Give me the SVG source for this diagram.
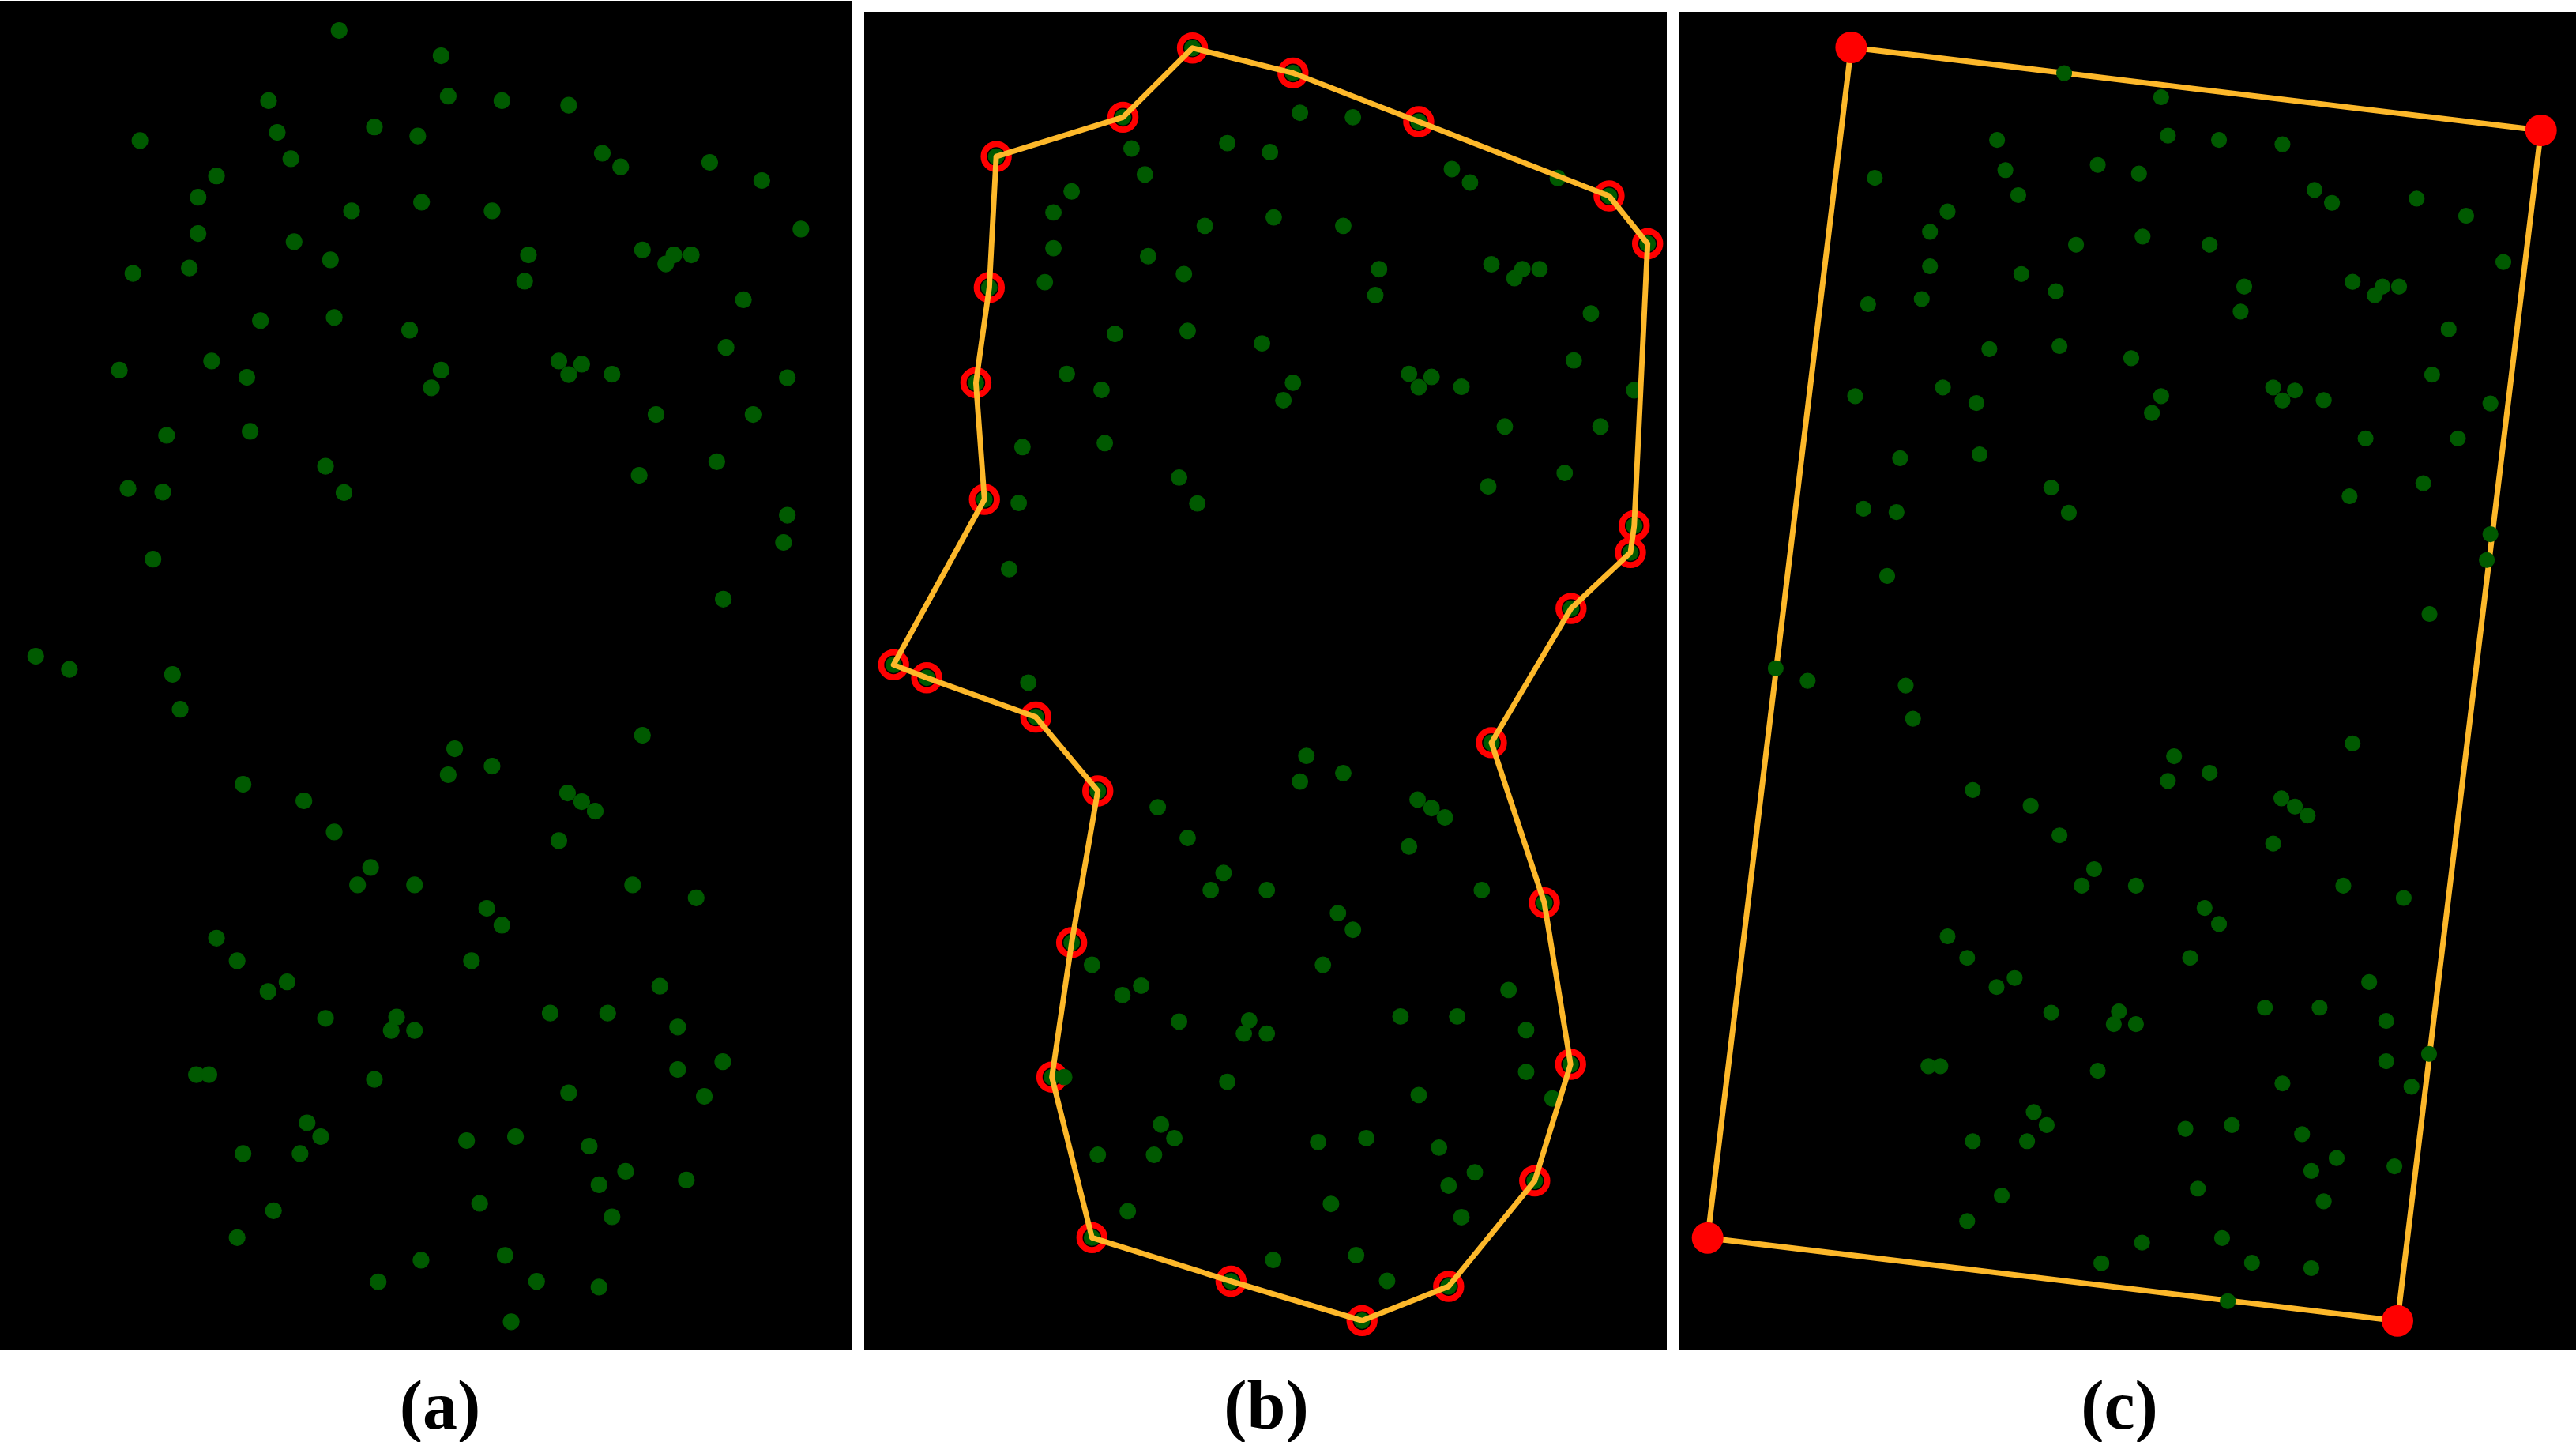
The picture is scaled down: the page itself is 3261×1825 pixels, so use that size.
<svg xmlns="http://www.w3.org/2000/svg" xmlns:xlink="http://www.w3.org/1999/xlink" width="3261" height="1825" viewBox="0 0 3261 1825">
<style>
.bg{fill:#000}
.pt circle{fill:#005a00;stroke:#005a00;stroke-width:1.2}
.hull{fill:none;stroke:#fdb82a;stroke-width:7;stroke-linejoin:round}
.ring{fill:none;stroke:#ff0000;stroke-width:8}
.corner{fill:#ff0000}
.lbl{font-family:"Liberation Serif","Times New Roman",serif;font-weight:bold;font-size:88px;fill:#000;text-anchor:middle}
</style>
<defs>
<g id="pts" class="pt">
<circle cx="429.3" cy="38.5" r="10"/><circle cx="558.4" cy="70.6" r="10"/><circle cx="340" cy="127.4" r="10"/><circle cx="567.4" cy="121.7" r="10"/><circle cx="635.4" cy="127.4" r="10"/><circle cx="719.9" cy="133.2" r="10"/><circle cx="177.2" cy="177.9" r="10"/><circle cx="351" cy="167.6" r="10"/><circle cx="474" cy="160.7" r="10"/><circle cx="528.9" cy="172.2" r="10"/><circle cx="368.2" cy="200.9" r="10"/><circle cx="762.5" cy="194" r="10"/><circle cx="785.8" cy="211.2" r="10"/><circle cx="898.5" cy="205.5" r="10"/><circle cx="964.4" cy="228.5" r="10"/><circle cx="274.1" cy="222.7" r="10"/><circle cx="250.7" cy="249.7" r="10"/><circle cx="445.1" cy="266.9" r="10"/><circle cx="533.7" cy="256" r="10"/><circle cx="623" cy="266.9" r="10"/><circle cx="1013.9" cy="289.9" r="10"/><circle cx="250.7" cy="295.6" r="10"/><circle cx="372.3" cy="305.9" r="10"/><circle cx="418.3" cy="328.9" r="10"/><circle cx="669" cy="322.6" r="10"/><circle cx="813.3" cy="316.3" r="10"/><circle cx="842.8" cy="334.1" r="10"/><circle cx="853.1" cy="322.6" r="10"/><circle cx="875.1" cy="322.6" r="10"/><circle cx="168.3" cy="346.1" r="10"/><circle cx="239.7" cy="339.2" r="10"/><circle cx="664.2" cy="355.9" r="10"/><circle cx="941.1" cy="379.4" r="10"/><circle cx="329.7" cy="405.8" r="10"/><circle cx="423.1" cy="401.8" r="10"/><circle cx="518.6" cy="417.9" r="10"/><circle cx="919.1" cy="439.7" r="10"/><circle cx="151.1" cy="468.4" r="10"/><circle cx="267.9" cy="456.9" r="10"/><circle cx="312.5" cy="477.6" r="10"/><circle cx="558.4" cy="468.4" r="10"/><circle cx="546.1" cy="490.8" r="10"/><circle cx="707.5" cy="456.9" r="10"/><circle cx="736.4" cy="460.9" r="10"/><circle cx="719.9" cy="474.1" r="10"/><circle cx="774.8" cy="473.6" r="10"/><circle cx="996.7" cy="478.1" r="10"/><circle cx="830.5" cy="524.6" r="10"/><circle cx="953.4" cy="524.6" r="10"/><circle cx="210.9" cy="551" r="10"/><circle cx="316.7" cy="545.9" r="10"/><circle cx="412.1" cy="590.1" r="10"/><circle cx="907.4" cy="584.3" r="10"/><circle cx="809.2" cy="601.6" r="10"/><circle cx="162.1" cy="618.2" r="10"/><circle cx="206.1" cy="622.8" r="10"/><circle cx="435.5" cy="623.4" r="10"/><circle cx="996.7" cy="652.1" r="10"/><circle cx="991.9" cy="686.5" r="10"/><circle cx="193.7" cy="707.7" r="10"/><circle cx="915.6" cy="758.3" r="10"/><circle cx="45.3" cy="830.6" r="10"/><circle cx="87.9" cy="847.2" r="10"/><circle cx="218.4" cy="853.5" r="10"/>
<circle cx="228.1" cy="897.7" r="10"/><circle cx="813.3" cy="930.6" r="10"/><circle cx="575.6" cy="947.6" r="10"/><circle cx="623" cy="969.6" r="10"/><circle cx="567.4" cy="980.5" r="10"/><circle cx="307.7" cy="992.6" r="10"/><circle cx="384.7" cy="1013.5" r="10"/><circle cx="718.5" cy="1003.6" r="10"/><circle cx="736.4" cy="1014.6" r="10"/><circle cx="753.5" cy="1026.6" r="10"/><circle cx="423.1" cy="1052.9" r="10"/><circle cx="707.5" cy="1063.9" r="10"/><circle cx="469.2" cy="1097.9" r="10"/><circle cx="452.7" cy="1119.9" r="10"/><circle cx="524.8" cy="1119.9" r="10"/><circle cx="800.9" cy="1119.9" r="10"/><circle cx="881.3" cy="1136.3" r="10"/><circle cx="616.2" cy="1149.5" r="10"/><circle cx="635.4" cy="1170.9" r="10"/><circle cx="274.1" cy="1187.3" r="10"/><circle cx="300.2" cy="1215.9" r="10"/><circle cx="596.9" cy="1215.9" r="10"/><circle cx="363.4" cy="1242.7" r="10"/><circle cx="339.3" cy="1254.8" r="10"/><circle cx="835.3" cy="1248.2" r="10"/><circle cx="412.1" cy="1288.8" r="10"/><circle cx="502.1" cy="1287.2" r="10"/><circle cx="495.3" cy="1304.2" r="10"/><circle cx="524.8" cy="1304.2" r="10"/><circle cx="696.5" cy="1282.2" r="10"/><circle cx="769.3" cy="1282.2" r="10"/><circle cx="857.9" cy="1299.8" r="10"/><circle cx="248.7" cy="1360.1" r="10"/><circle cx="264.5" cy="1360.1" r="10"/><circle cx="474" cy="1366.1" r="10"/><circle cx="857.9" cy="1353.5" r="10"/><circle cx="915" cy="1343.7" r="10"/><circle cx="719.9" cy="1383.1" r="10"/><circle cx="891.6" cy="1387.5" r="10"/><circle cx="388.8" cy="1421" r="10"/><circle cx="406" cy="1438.5" r="10"/><circle cx="590.7" cy="1443.5" r="10"/><circle cx="652.6" cy="1438.5" r="10"/><circle cx="307.7" cy="1459.9" r="10"/><circle cx="379.9" cy="1459.9" r="10"/><circle cx="746" cy="1450.6" r="10"/><circle cx="792" cy="1482.4" r="10"/><circle cx="758.3" cy="1499.4" r="10"/><circle cx="868.9" cy="1493.4" r="10"/><circle cx="607.2" cy="1523" r="10"/><circle cx="346.2" cy="1532.3" r="10"/><circle cx="774.8" cy="1540" r="10"/><circle cx="300.2" cy="1566.3" r="10"/><circle cx="533" cy="1594.9" r="10"/><circle cx="639.5" cy="1588.8" r="10"/><circle cx="478.8" cy="1622.3" r="10"/><circle cx="679.3" cy="1621.7" r="10"/><circle cx="758.3" cy="1628.9" r="10"/><circle cx="647.1" cy="1672.8" r="10"/>
</g>
</defs>
<rect width="3261" height="1825" fill="#fff"/>
<g id="panel-a">
<rect class="bg" x="0" y="1" width="1079" height="1707"/>
<use xlink:href="#pts" href="#pts"/>
</g>
<g id="panel-b">
<rect class="bg" x="1094" y="15" width="1016" height="1693"/>
<g transform="translate(1086.5,22.8) scale(0.9855)">
<g id="b-rings" class="ring">
<circle cx="429.3" cy="38.5" r="16"/><circle cx="558.4" cy="70.6" r="16"/><circle cx="719.9" cy="133.2" r="16"/><circle cx="964.4" cy="228.5" r="16"/><circle cx="1013.9" cy="289.9" r="16"/><circle cx="996.7" cy="652.1" r="16"/><circle cx="991.9" cy="686.5" r="16"/><circle cx="915.6" cy="758.3" r="16"/><circle cx="813.3" cy="930.6" r="16"/><circle cx="881.3" cy="1136.3" r="16"/><circle cx="915" cy="1343.7" r="16"/><circle cx="868.9" cy="1493.4" r="16"/><circle cx="758.3" cy="1628.9" r="16"/><circle cx="647.1" cy="1672.8" r="16"/><circle cx="478.8" cy="1622.3" r="16"/><circle cx="300.2" cy="1566.3" r="16"/><circle cx="248.7" cy="1360.1" r="16"/><circle cx="274.1" cy="1187.3" r="16"/><circle cx="307.7" cy="992.6" r="16"/><circle cx="228.1" cy="897.7" r="16"/><circle cx="87.9" cy="847.2" r="16"/><circle cx="45.3" cy="830.6" r="16"/><circle cx="162.1" cy="618.2" r="16"/><circle cx="151.1" cy="468.4" r="16"/><circle cx="168.3" cy="346.1" r="16"/><circle cx="177.2" cy="177.9" r="16"/><circle cx="340" cy="127.4" r="16"/>
</g>
<use xlink:href="#pts" href="#pts"/>
<g id="b-connectors">
<polygon class="hull" points="429.3,38.5 558.4,70.6 719.9,133.2 964.4,228.5 1013.9,289.9 996.7,652.1 991.9,686.5 915.6,758.3 813.3,930.6 881.3,1136.3 915,1343.7 868.9,1493.4 758.3,1628.9 647.1,1672.8 478.8,1622.3 300.2,1566.3 248.7,1360.1 274.1,1187.3 307.7,992.6 228.1,897.7 87.9,847.2 45.3,830.6 162.1,618.2 151.1,468.4 168.3,346.1 177.2,177.9 340,127.4"/>
</g>
</g>
</g>
<g id="panel-c">
<rect class="bg" x="2126" y="15" width="1135" height="1693"/>
<g id="c-connectors">
<polygon class="hull" points="2343.4,60 3216.7,165 3035,1671.7 2161.7,1566.7"/>
</g>
<g transform="translate(2204.8,55.9) scale(0.951)">
<use xlink:href="#pts" href="#pts"/>
</g>
<g id="c-corners" class="corner">
<circle cx="2343.4" cy="60" r="20"/><circle cx="3216.7" cy="165" r="20"/><circle cx="3035" cy="1671.7" r="20"/><circle cx="2161.7" cy="1566.7" r="20"/>
</g>
</g>
<g id="labels">
<text class="lbl" x="557" y="1808">(a)</text>
<text class="lbl" x="1603" y="1808">(b)</text>
<text class="lbl" x="2683" y="1808">(c)</text>
</g>
</svg>
